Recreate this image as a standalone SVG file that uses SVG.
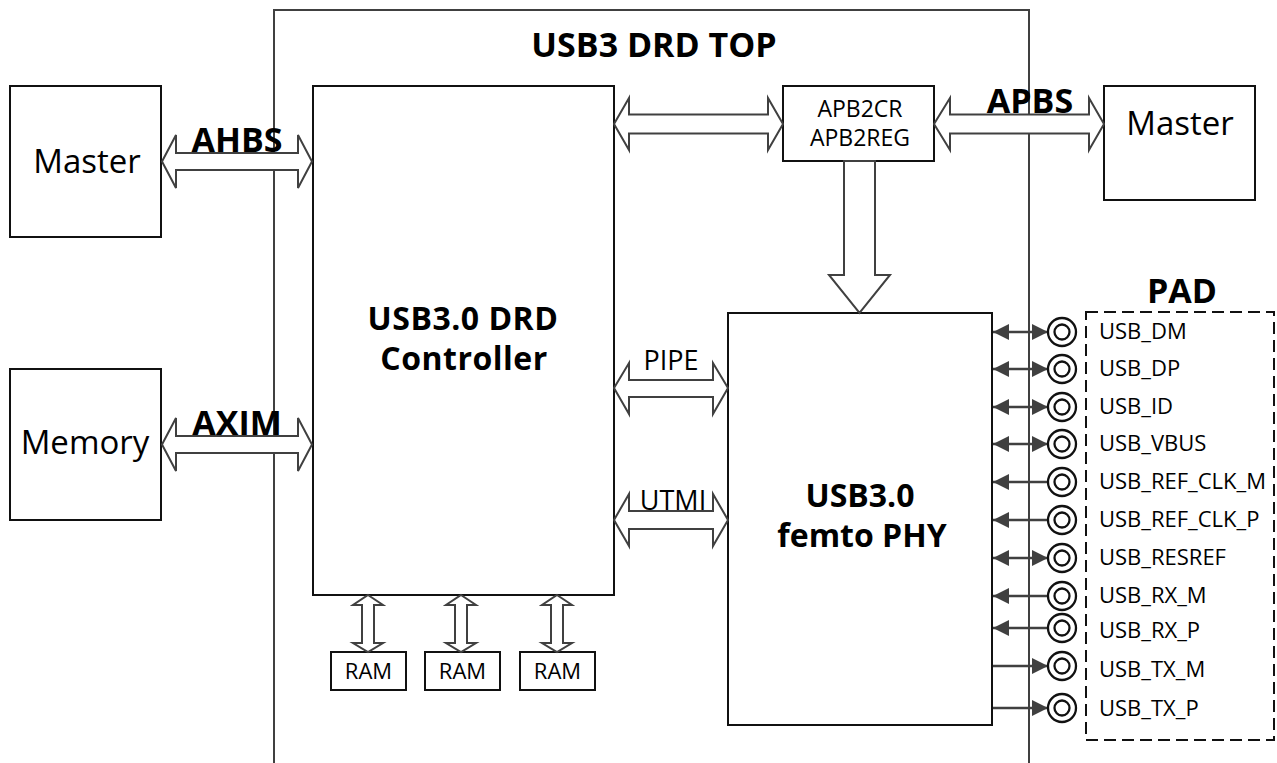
<svg xmlns="http://www.w3.org/2000/svg" width="1277" height="763" viewBox="0 0 1277 763">
<defs>
<style>
.box{fill:#fff;stroke:#111;stroke-width:2}
.outer{fill:none;stroke:#404040;stroke-width:2}
.harrow{fill:#fff;stroke:#404040;stroke-width:2;stroke-linejoin:miter}
.pin{stroke:#404040;stroke-width:2.7;fill:none}
.ring{fill:#fff;stroke:#111;stroke-width:2.3}
.t{font-family:"Open Sans","Noto Sans","Liberation Sans",sans-serif;fill:#000}
.b{font-weight:bold}
.big{font-size:34px}
.ctl{font-size:32px;letter-spacing:0.5px}
.phy{font-size:32px}
.reg{font-size:33px}
.mid{font-size:27px}
.apb{font-size:23px}
.sm{font-size:22px}
.dash{fill:none;stroke:#111;stroke-width:2;stroke-dasharray:12,6}
</style>
<marker id="ah" viewBox="0 0 16 16" refX="16" refY="8" markerWidth="16" markerHeight="16" markerUnits="userSpaceOnUse" orient="auto-start-reverse">
<path d="M0,0 L16,8 L0,16 z" fill="#404040"/>
</marker>
</defs>
<rect width="1277" height="763" fill="#fff"/>

<g id="usb3-drd-top">
<rect class="outer" x="274" y="10" width="755" height="780"/>
<text class="t b big" x="654" y="57" text-anchor="middle">USB3 DRD TOP</text>
</g>

<g id="master-left">
<rect class="box" x="10" y="86" width="151" height="151"/>
<text class="t reg" x="87" y="173" text-anchor="middle">Master</text>
</g>

<g id="memory">
<rect class="box" x="10" y="369" width="151" height="151"/>
<text class="t reg" x="85" y="454" text-anchor="middle">Memory</text>
</g>

<g id="controller">
<rect class="box" x="313" y="86" width="301" height="509"/>
<text class="t b ctl" x="463" y="330" text-anchor="middle">USB3.0 DRD</text>
<text class="t b ctl" x="464" y="370" text-anchor="middle">Controller</text>
</g>

<g id="apb2cr">
<rect class="box" x="783" y="86" width="151" height="75"/>
<text class="t apb" x="860" y="117" text-anchor="middle">APB2CR</text>
<text class="t apb" x="860" y="146" text-anchor="middle">APB2REG</text>
</g>

<g id="master-right">
<rect class="box" x="1104" y="86" width="151" height="114"/>
<text class="t reg" x="1180" y="135" text-anchor="middle">Master</text>
</g>

<g id="phy">
<rect class="box" x="728" y="313" width="264" height="412"/>
<text class="t b phy" x="860" y="507" text-anchor="middle">USB3.0</text>
<text class="t b phy" x="862" y="547" text-anchor="middle">femto PHY</text>
</g>

<g id="ram1">
<rect class="box" x="331" y="652" width="75" height="38"/>
<text class="t sm" x="368.5" y="679" text-anchor="middle">RAM</text>
</g>
<g id="ram2">
<rect class="box" x="425" y="652" width="75" height="38"/>
<text class="t sm" x="462.5" y="679" text-anchor="middle">RAM</text>
</g>
<g id="ram3">
<rect class="box" x="520" y="652" width="75" height="38"/>
<text class="t sm" x="557.5" y="679" text-anchor="middle">RAM</text>
</g>

<g id="pad">
<rect class="dash" x="1086" y="312" width="188" height="428"/>
<text class="t b big" x="1182" y="303" text-anchor="middle">PAD</text>
</g>

<g id="connectors">
<polygon class="harrow" points="162,161.5 176,135 176,153 298,153 298,135 312,161.5 298,188 298,170 176,170 176,188"/>
<polygon class="harrow" points="162,444.5 176,418 176,436 298,436 298,418 312,444.5 298,471 298,453 176,453 176,471"/>
<polygon class="harrow" points="614,124 629,98 629,114.5 768,114.5 768,98 783,124 768,150 768,133.5 629,133.5 629,150"/>
<polygon class="harrow" points="934,124 950,98 950,114.5 1089,114.5 1089,98 1104,124 1089,150 1089,133.5 950,133.5 950,150"/>
<polygon class="harrow" points="614,388 629,363 629,380 713,380 713,363 728,388 713,414 713,397 629,397 629,414"/>
<polygon class="harrow" points="614,520 629,494 629,511 713,511 713,494 728,520 713,546 713,529 629,529 629,546"/>
<polygon class="harrow" points="844,161 844,275 829,275 859.5,313 890,275 875,275 875,161"/>
<polygon class="harrow" points="368,595 383,605 374,605 374,643 383,643 368,652 353,643 362,643 362,605 353,605"/>
<polygon class="harrow" points="461,595 476,605 467,605 467,643 476,643 461,652 446,643 455,643 455,605 446,605"/>
<polygon class="harrow" points="557,595 572,605 563,605 563,643 572,643 557,652 542,643 551,643 551,605 542,605"/>

<text class="t b big" x="237" y="152" text-anchor="middle">AHBS</text>
<text class="t b big" x="237" y="435" text-anchor="middle">AXIM</text>
<text class="t b big" x="1030" y="113" text-anchor="middle">APBS</text>
<text class="t mid" x="671" y="370" text-anchor="middle">PIPE</text>
<text class="t mid" x="673" y="510" text-anchor="middle">UTMI</text>

<line class="pin" x1="993" y1="332" x2="1048" y2="332" marker-start="url(#ah)" marker-end="url(#ah)"/>
<line class="pin" x1="993" y1="369" x2="1048" y2="369" marker-start="url(#ah)" marker-end="url(#ah)"/>
<line class="pin" x1="993" y1="407" x2="1048" y2="407" marker-start="url(#ah)" marker-end="url(#ah)"/>
<line class="pin" x1="993" y1="444" x2="1048" y2="444" marker-start="url(#ah)" marker-end="url(#ah)"/>
<line class="pin" x1="993" y1="482" x2="1048" y2="482" marker-start="url(#ah)"/>
<line class="pin" x1="993" y1="520" x2="1048" y2="520" marker-start="url(#ah)"/>
<line class="pin" x1="993" y1="558" x2="1048" y2="558" marker-start="url(#ah)" marker-end="url(#ah)"/>
<line class="pin" x1="993" y1="596" x2="1048" y2="596" marker-start="url(#ah)"/>
<line class="pin" x1="993" y1="628" x2="1048" y2="628" marker-start="url(#ah)"/>
<line class="pin" x1="993" y1="666" x2="1048" y2="666" marker-end="url(#ah)"/>
<line class="pin" x1="993" y1="708" x2="1048" y2="708" marker-end="url(#ah)"/>
</g>

<g id="pins">
<g id="pin-dm"><circle class="ring" cx="1062" cy="332" r="14"/><circle class="ring" cx="1062" cy="332" r="7.5"/><text class="t sm" x="1099" y="339">USB_DM</text></g>
<g id="pin-dp"><circle class="ring" cx="1062" cy="369" r="14"/><circle class="ring" cx="1062" cy="369" r="7.5"/><text class="t sm" x="1099" y="376">USB_DP</text></g>
<g id="pin-id"><circle class="ring" cx="1062" cy="407" r="14"/><circle class="ring" cx="1062" cy="407" r="7.5"/><text class="t sm" x="1099" y="414">USB_ID</text></g>
<g id="pin-vbus"><circle class="ring" cx="1062" cy="444" r="14"/><circle class="ring" cx="1062" cy="444" r="7.5"/><text class="t sm" x="1099" y="451">USB_VBUS</text></g>
<g id="pin-refclkm"><circle class="ring" cx="1062" cy="482" r="14"/><circle class="ring" cx="1062" cy="482" r="7.5"/><text class="t sm" x="1099" y="489">USB_REF_CLK_M</text></g>
<g id="pin-refclkp"><circle class="ring" cx="1062" cy="520" r="14"/><circle class="ring" cx="1062" cy="520" r="7.5"/><text class="t sm" x="1099" y="527">USB_REF_CLK_P</text></g>
<g id="pin-resref"><circle class="ring" cx="1062" cy="558" r="14"/><circle class="ring" cx="1062" cy="558" r="7.5"/><text class="t sm" x="1099" y="565">USB_RESREF</text></g>
<g id="pin-rxm"><circle class="ring" cx="1062" cy="596" r="14"/><circle class="ring" cx="1062" cy="596" r="7.5"/><text class="t sm" x="1099" y="603">USB_RX_M</text></g>
<g id="pin-rxp"><circle class="ring" cx="1062" cy="628" r="14"/><circle class="ring" cx="1062" cy="628" r="7.5"/><text class="t sm" x="1099" y="638">USB_RX_P</text></g>
<g id="pin-txm"><circle class="ring" cx="1062" cy="666" r="14"/><circle class="ring" cx="1062" cy="666" r="7.5"/><text class="t sm" x="1099" y="677">USB_TX_M</text></g>
<g id="pin-txp"><circle class="ring" cx="1062" cy="708" r="14"/><circle class="ring" cx="1062" cy="708" r="7.5"/><text class="t sm" x="1099" y="716">USB_TX_P</text></g>
</g>
</svg>
